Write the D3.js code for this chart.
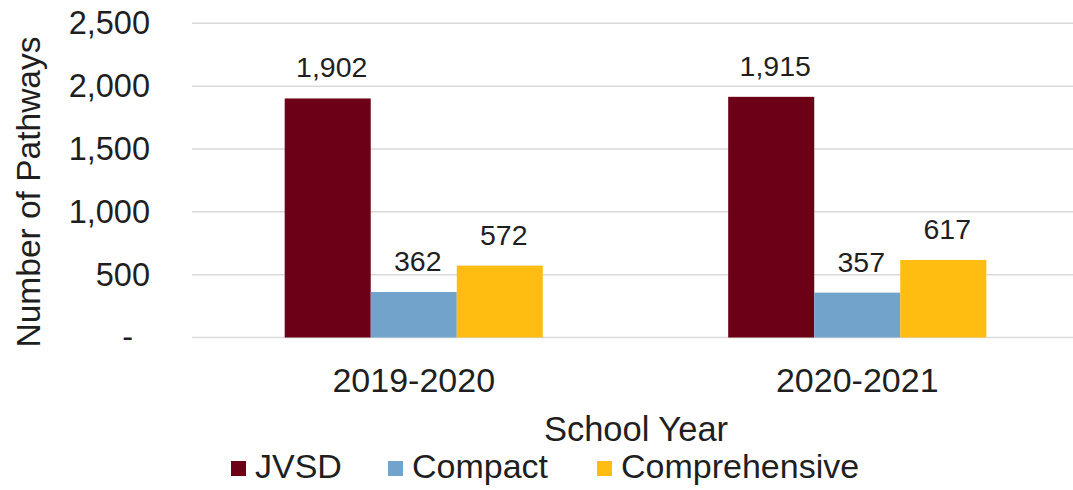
<!DOCTYPE html>
<html>
<head>
<meta charset="utf-8">
<script src="https://cdn.jsdelivr.net/npm/d3@7"></script>
<style>
  html, body { margin: 0; padding: 0; background: #ffffff; }
  svg { display: block; font-family: "Liberation Sans", Arial, sans-serif; }
</style>
</head>
<body>
<svg id="chart" width="1073" height="490"></svg>
<script>
// School years on the x axis
const years = ["2019-2020", "2020-2021"];
// Pathway types (legend order)
const seriesNames = ["JVSD", "Compact", "Comprehensive"];
// Number of pathways per type, one value per school year
const jvsd = [1902, 1915];
const compact = [362, 357];
const comprehensive = [572, 617];
// Y axis ticks
const yTicks = [0, 500, 1000, 1500, 2000, 2500];

const seriesValues = [jvsd, compact, comprehensive];
const colors = ["#6c0017", "#72a4cb", "#ffbd12"];
const textColor = "#1f1f1f";

const svg = d3.select("#chart");
const margin = { left: 192, right: -6, top: 23.3, bottom: 152.5 };
const W = 1073, H = 490;

const x0 = d3.scaleBand()
  .domain(years)
  .range([margin.left, W - margin.right])
  .paddingInner(0.418)
  .paddingOuter(0.209);

const x1 = d3.scaleBand()
  .domain(seriesNames)
  .range([0, x0.bandwidth()])
  .padding(0);

const y = d3.scaleLinear()
  .domain([0, 2500])
  .range([H - margin.bottom, margin.top]);

const color = d3.scaleOrdinal().domain(seriesNames).range(colors);

// Horizontal gridlines
svg.append("g")
  .selectAll("line")
  .data(yTicks)
  .join("line")
  .attr("x1", margin.left)
  .attr("x2", W)
  .attr("y1", d => y(d))
  .attr("y2", d => y(d))
  .attr("stroke", "#d9d9d9")
  .attr("stroke-width", 1.5);

// Y axis labels (zero shown as a dash)
const yAxis = d3.axisLeft(y)
  .tickValues(yTicks)
  .tickSize(0)
  .tickPadding(0)
  .tickFormat(d => d === 0 ? "-" : d3.format(",")(d));

const yg = svg.append("g")
  .attr("transform", "translate(150,0)")
  .call(yAxis);
yg.select(".domain").remove();
yg.selectAll("text")
  .attr("font-size", 32.5)
  .attr("fill", textColor)
  .attr("font-family", "'Liberation Sans', Arial, sans-serif")
  .attr("dx", d => d === 0 ? -17 : 0);

// Bars
const rows = years.map((yr, i) => ({
  year: yr,
  items: seriesNames.map((s, j) => ({ series: s, value: seriesValues[j][i] }))
}));

const groups = svg.append("g")
  .selectAll("g")
  .data(rows)
  .join("g")
  .attr("transform", d => `translate(${x0(d.year)},0)`);

groups.selectAll("rect")
  .data(d => d.items)
  .join("rect")
  .attr("x", d => x1(d.series))
  .attr("y", d => y(d.value))
  .attr("width", x1.bandwidth())
  .attr("height", d => y(0) - y(d.value))
  .attr("fill", d => color(d.series));

// Value labels above bars
groups.selectAll("text")
  .data(d => d.items)
  .join("text")
  .attr("x", d => x1(d.series) + x1.bandwidth() / 2 + 4)
  .attr("y", d => y(d.value) - 21)
  .attr("text-anchor", "middle")
  .attr("font-size", 28.5)
  .attr("fill", textColor)
  .text(d => d3.format(",")(d.value));

// X axis category labels
const xAxis = d3.axisBottom(x0).tickSize(0).tickPadding(0);
const xg = svg.append("g")
  .attr("transform", `translate(0,${y(0)})`)
  .call(xAxis);
xg.select(".domain").remove();
xg.selectAll("text")
  .attr("font-size", 34)
  .attr("fill", textColor)
  .attr("font-family", "'Liberation Sans', Arial, sans-serif")
  .attr("dy", 0)
  .attr("y", 54);

// Axis titles
svg.append("text")
  .attr("transform", "translate(40,192) rotate(-90)")
  .attr("text-anchor", "middle")
  .attr("font-size", 33.5)
  .attr("fill", textColor)
  .text("Number of Pathways");

svg.append("text")
  .attr("x", 636)
  .attr("y", 441)
  .attr("text-anchor", "middle")
  .attr("font-size", 34.5)
  .attr("fill", textColor)
  .text("School Year");

// Legend
const legendX = [231, 388, 597];
const legend = svg.append("g")
  .selectAll("g")
  .data(seriesNames)
  .join("g")
  .attr("transform", (d, i) => `translate(${legendX[i]},0)`);

legend.append("rect")
  .attr("x", 0)
  .attr("y", 461)
  .attr("width", 15)
  .attr("height", 15)
  .attr("fill", d => color(d));

legend.append("text")
  .attr("x", 24)
  .attr("y", 478)
  .attr("font-size", 34)
  .attr("fill", textColor)
  .text(d => d);
</script>
</body>
</html>
